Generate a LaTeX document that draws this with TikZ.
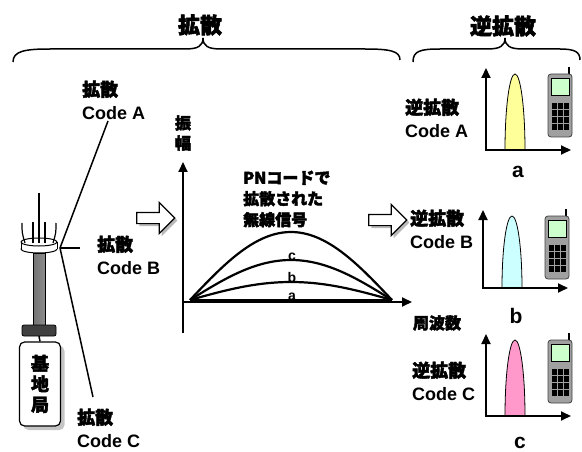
\documentclass[tikz,border=0pt]{standalone}
\usepackage{fontspec}
\setmainfont{Liberation Sans}
\newfontfamily\jp{Noto Sans CJK JP}[FakeBold=2.5]
\usetikzlibrary{arrows.meta,shapes.arrows,shadows}

\definecolor{peakyellow}{HTML}{FFFF99}
\definecolor{peakcyan}{HTML}{CCFFFF}
\definecolor{peakpink}{HTML}{FF99CC}
\definecolor{screengreen}{HTML}{CCFFCC}
\definecolor{bodygray}{HTML}{A0A0A0}

\tikzset{
  heading/.style={font=\fontsize{22}{22}\selectfont\bfseries\jp, inner sep=0pt},
  lbl/.style={font=\fontsize{18}{23}\selectfont\bfseries, align=left, inner sep=0pt},
  letter/.style={font=\fontsize{21}{21}\selectfont\bfseries, inner sep=0pt},
  ax/.style={line width=2pt, -{Triangle[length=10pt,width=9pt]}},
  wave/.style={line width=2.2pt},
  brace/.style={line width=1.5pt},
  blockarrow/.style={single arrow, draw, line width=1.2pt, fill=white,
    minimum height=38pt, single arrow head extend=10pt, inner sep=5pt,
    drop shadow={shadow xshift=2.5pt, shadow yshift=-2.5pt, fill=black!55}},
  station/.style={draw, line width=1.2pt, fill=white, rounded corners=5pt,
    minimum width=41pt, minimum height=84pt, align=center,
    font=\fontsize{18}{20.5}\selectfont\bfseries\jp,
    drop shadow={shadow xshift=4pt, shadow yshift=-4pt, fill=black!45}},
  pics/handset/.style={code={
    \draw[line width=2.5pt] (21,1) -- (21,-7);
    \draw[fill=bodygray, draw=black!75, line width=0.8pt, rounded corners=3pt]
      (0,0) rectangle (24,63);
    \draw[fill=screengreen, line width=0.6pt] (3,4) rectangle (21,21);
    \foreach \kx in {4,10,16}
      \foreach \ky in {29,36,43,50}
        \fill[black] (\kx,\ky) rectangle ++(5,6);
  }}
}

\begin{document}
\begin{tikzpicture}[x=1pt, y=-1pt]
  \useasboundingbox (0,0) rectangle (582,452);

  % headings and their braces
  \node[heading] (spread) at (200,25) {拡散};
  \node[heading] (despread) at (503,26) {逆拡散};
  \draw[brace] (13,62) .. controls (13,51) and (25,49) .. (50,49) -- (185,49)
    .. controls (198,49) and (203,46) .. (203,38)
    .. controls (203,46) and (208,49) .. (221,49) -- (365,49)
    .. controls (390,49) and (400,51) .. (400,60);
  \draw[brace] (413,62) .. controls (413,51) and (420,49) .. (440,49) -- (487,49)
    .. controls (500,49) and (505,46) .. (505,38)
    .. controls (505,46) and (510,49) .. (523,49) -- (560,49)
    .. controls (575,49) and (580,52) .. (580,60);

  % base station tower
  \draw[fill=white, line width=1pt] (39,249) ellipse [x radius=18, y radius=4];
  \fill[white] (21,242) rectangle (57,249);
  \draw[line width=1pt] (21,242) -- (21,249) (57,242) -- (57,249);
  \draw[fill=white, line width=1pt] (39,242) ellipse [x radius=18, y radius=4];
  \draw[line width=1.5pt] (39,193) -- (39,243);
  \draw[line width=1.2pt] (33,222) -- (33,243) (45,222) -- (45,243);
  \draw[line width=1.2pt] (22,223) .. controls (22,233) .. (25,243);
  \draw[line width=1.2pt] (56,223) .. controls (56,233) .. (53,243);
  \draw[line width=0.8pt, left color=black!55, middle color=black!20, right color=black!45]
    (33,253) rectangle (45,325);
  \draw[fill=black!75, line width=0.8pt, rounded corners=2pt] (22,325) rectangle (56,336);
  \node[station] (base) at (40,384) {基\\地\\局};
  \draw[line width=1.5pt] (39,336) -- (base.north);

  % spreading codes
  \coordinate (ant) at (60,248);
  \coordinate (tipA) at (108,121);
  \coordinate (tipB) at (80,248);
  \coordinate (tipC) at (93,397);
  \node[lbl, anchor=west] (codeA) at (82,100) {{\jp 拡散}\\Code A};
  \node[lbl, anchor=west] (codeB) at (97,255) {{\jp 拡散}\\Code B};
  \node[lbl, anchor=west] (codeC) at (77,428) {{\jp 拡散}\\Code C};
  \draw[line width=1.5pt] (ant) -- (tipA);
  \draw[line width=1.5pt] (ant) -- (tipB);
  \draw[line width=1.5pt] (ant) -- (tipC);

  \node[blockarrow] (toair) at (153,218) {};
  \node[blockarrow] (torx) at (385,220) {};

  % spread spectrum on air
  \draw[ax] (183,333) -- (183,162);
  \draw[ax] (183,302) -- (412,302);
  \node[font=\fontsize{16}{20}\selectfont\bfseries\jp, align=center, inner sep=0pt]
    (amp) at (183,133) {振\\幅};
  \node[font=\fontsize{16}{16}\selectfont\bfseries\jp, inner sep=0pt] (freq) at (437,323) {周波数};
  \node[font=\fontsize{16}{21}\selectfont\bfseries\jp, align=left, anchor=west, inner sep=0pt]
    (pn) at (243,199) {PNコードで\\拡散された\\無線信号};
  \draw[wave] plot[domain=190:392, samples=60] (\x, {300-68*sin((\x-190)/202*180)});
  \draw[wave] plot[domain=190:392, samples=60] (\x, {300-40*sin((\x-190)/202*180)});
  \draw[wave] plot[domain=190:392, samples=60] (\x, {300-18*sin((\x-190)/202*180)});
  \draw[wave] (190,300) -- (392,300);
  \node[font=\fontsize{14}{14}\selectfont\bfseries, inner sep=0pt] (sigC) at (292,257) {c};
  \node[font=\fontsize{14}{14}\selectfont\bfseries, inner sep=0pt] (sigB) at (292,277) {b};
  \node[font=\fontsize{14}{14}\selectfont\bfseries, inner sep=0pt] (sigA) at (292,297) {a};

  % receivers after despreading
  \foreach \ox/\base/\top/\col in {486/150/68/peakyellow, 483/288/210/peakcyan, 486/416/334/peakpink}{
    \draw[fill=\col, line width=0.8pt] (\ox+19,\base)
      arc [start angle=180, end angle=360, x radius=10, y radius=\base-\top-6] -- cycle;
    \draw[line width=2pt, {Triangle[length=10pt,width=9pt]}-{Triangle[length=10pt,width=9pt]}]
      (\ox,\top) |- (\ox+85,\base);
    \pic at (\ox+62,\top+6) {handset};
  }
  \node[lbl, anchor=west] (rxA) at (405,118) {{\jp 逆拡散}\\Code A};
  \node[lbl, anchor=west] (rxB) at (410,229) {{\jp 逆拡散}\\Code B};
  \node[lbl, anchor=west] (rxC) at (412,381) {{\jp 逆拡散}\\Code C};
  \node[letter] (outA) at (518,172) {a};
  \node[letter] (outB) at (516,316) {b};
  \node[letter] (outC) at (520,443) {c};
\end{tikzpicture}
\end{document}
